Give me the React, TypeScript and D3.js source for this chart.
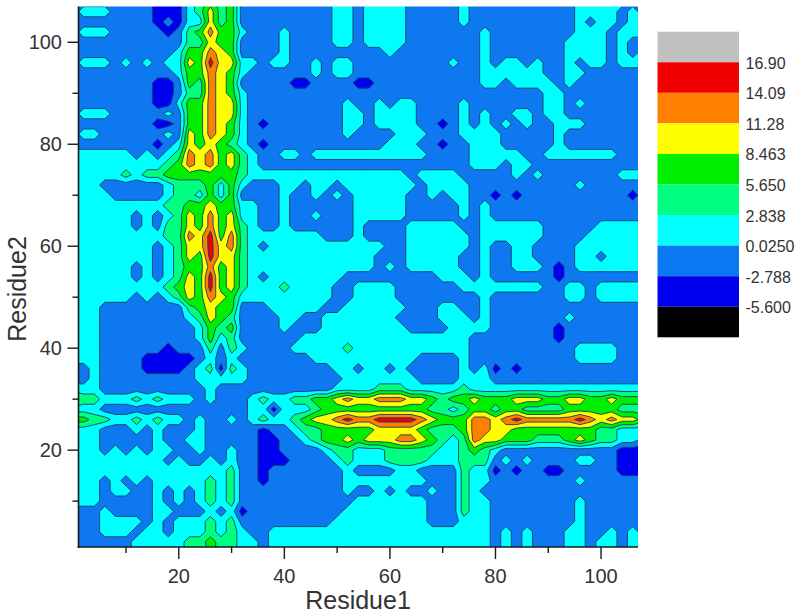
import React, { useMemo } from "react";
import * as d3 from "d3";

// Contour levels of the map, low to high
const levels = [-5.6, -2.788, 0.025, 2.838, 5.65, 8.463, 11.28, 14.09, 16.9];
const bandColors = ["#0000f0", "#0a78f0", "#00ffff", "#00ff80", "#00ee00", "#ffff00", "#ff8000", "#f00000"];
const legendColors = ["#c0c0c0", "#f00000", "#ff8000", "#ffff00", "#00ee00", "#00ff80", "#00ffff", "#0a78f0", "#0000f0", "#000000"];
const legendLabels = ["16.90", "14.09", "11.28", "8.463", "5.650", "2.838", "0.0250", "-2.788", "-5.600"];
const xMajor = [20, 40, 60, 80, 100];
const xMinor = [10, 30, 50, 70, 90];
const yMajor = [20, 40, 60, 80, 100];
const yMinor = [10, 30, 50, 70, 90];

// Band read at every second residue: Residue2 108 (top) to 0, Residue1 0 to 108
const bandRows = [
  "11111 11100 02343 41111 11111 22122 22111 11211 11111 11122 22211",
  "12221 11100 02353 41111 11111 22122 22111 11211 11111 11122 22121",
  "11111 11101 02253 41111 11111 22122 22111 11211 11111 11121 22122",
  "12221 11110 13464 42111 21111 22122 22111 11112 11111 11122 21222",
  "11111 11111 13354 41111 21111 22122 22111 11112 11111 11222 21211",
  "11111 11111 24465 41111 21111 11111 21111 11112 11111 11222 21212",
  "12221 21212 25475 52212 21121 22111 11111 12112 12212 11212 21222",
  "11111 11111 24465 42111 11121 22111 11111 11112 22222 11221 11111",
  "11111 11100 14365 41111 10011 11001 11111 11112 21222 21211 11111",
  "11111 11100 13365 42111 11111 11111 11111 11111 11111 22111 11111",
  "11111 11100 24465 52111 11111 12112 12211 11211 11111 22121 11111",
  "12221 11112 14465 52111 11111 12212 22211 11212 11221 22111 11111",
  "11111 11100 14465 42101 11111 12212 22211 01212 12121 12221 11111",
  "12211 11112 15465 42111 11111 12111 12221 11222 21111 12111 11111",
  "11111 11101 25454 32101 11111 11111 22211 01122 21111 12111 11111",
  "22222 21212 36564 53211 22122 22222 22221 11122 22211 22222 22111",
  "22222 22223 46564 53211 11111 11111 11111 11122 21221 11111 11111",
  "22222 32334 44444 43222 22222 22222 22122 22111 11212 11111 11222",
  "22211 11112 33342 42111 22122 12222 22212 22211 11111 11121 11111",
  "22221 11112 33242 41111 21121 21222 22112 12211 01011 11111 11101",
  "22222 22223 34454 42211 21111 11222 22111 11212 11111 11111 11111",
  "22222 21212 35464 52211 21121 11222 22111 11212 11111 11111 11111",
  "22222 21213 35464 53211 21111 11211 11222 22112 22222 11111 22222",
  "22222 22223 36574 63222 22221 11211 11222 22212 22222 11112 22222",
  "22222 22212 35575 63212 22222 22222 11222 22212 11221 11122 22222",
  "22222 22212 35475 53222 22222 22221 11222 22112 11221 11122 12222",
  "22222 21212 34464 53222 22222 22221 21222 22112 11222 10122 22222",
  "22222 21212 35474 53212 22222 21111 11111 22212 11111 10111 11111",
  "22222 22223 45474 53222 32222 11222 21111 11222 22222 11221 22222",
  "22222 21212 35465 42222 22222 11222 21111 11112 11111 11221 22222",
  "22211 11111 13454 41112 22221 12222 22111 22112 11111 11111 11111",
  "22211 11111 12354 31111 22112 22222 21111 22212 11111 11211 11111",
  "22211 11111 11243 41111 21112 22222 22111 12222 11111 10111 11111",
  "22211 11111 11242 31111 11222 22222 22222 22211 11111 10111 11111",
  "22211 11110 11131 32111 12222 23222 22222 22211 11111 11122 22111",
  "22211 11000 00121 21111 11122 22222 22211 11211 11111 11122 22111",
  "11211 11000 01230 32111 11111 22122 12111 11212 01011 11111 11111",
  "11211 11111 11222 22111 11111 12222 22211 11222 11111 11111 11111",
  "22211 11111 11121 11111 11111 22223 33222 22322 22222 22222 22222",
  "43322 23232 22121 11232 23344 56556 66554 34454 44555 44554 45444",
  "22211 11111 11111 11220 22234 44444 44443 32344 34433 33444 44333",
  "44332 23232 21211 21232 23455 67667 77765 44466 56766 66676 56554",
  "22211 12121 11211 11101 12334 44445 55543 33466 55444 44444 33222",
  "32211 11121 12211 11100 11234 45455 56654 32365 54443 33454 33221",
  "22212 12122 11211 21100 11112 33222 33333 22343 21111 11111 11000",
  "22222 22221 21121 21100 01111 23222 33332 22333 12121 11122 11000",
  "22222 22222 22222 31101 11111 12111 12211 11322 01011 00111 11000",
  "22212 12122 22232 31101 11111 12222 22221 11322 11111 11121 11111",
  "22212 21121 21232 31111 11111 12112 12112 11321 11111 11111 11111",
  "22211 11121 21232 31111 11111 11222 22221 11322 11111 11121 11111",
  "11121 11122 11121 20111 11111 12222 22221 11322 11111 11121 11111",
  "11122 22121 22232 31111 11111 22222 22221 11222 11111 11121 11111",
  "11122 21221 22232 32112 22222 22222 22222 22222 12121 11221 12121",
  "11111 12222 23343 32212 22222 22222 22222 22222 12121 11221 22122",
  "11111 12222 23243 32212 22222 22222 22222 22222 12121 11221 22122",
];

const W = 800;
const H = 616;
const textColor = "#333333";
const font = "Liberation Sans, Arial, sans-serif";

export default function App() {
  const x = d3.scaleLinear().domain([1, 107]).range([78.5, 638]);
  const y = d3.scaleLinear().domain([1, 107]).range([547, 6.6]);

  const paths = useMemo(() => {
    const digits = bandRows.map((r) => r.replace(/\s/g, "").split("").map(Number));
    const rows = digits.length;
    const cols = digits[0].length;
    const values = digits.flat().map((d) => (levels[d] + levels[d + 1]) / 2);
    const gen = d3.contours().size([cols, rows]).thresholds(levels.slice(0, 8));
    const project = d3.geoTransform({
      point(px: number, py: number) {
        (this as any).stream.point(x((px - 0.5) * 2), y(108 - (py - 0.5) * 2));
      },
    });
    const path = d3.geoPath(project);
    return gen(values).map((c, i) => ({ d: path(c as any) || "", color: bandColors[i] }));
  }, []);

  const legend = d3.scaleBand<string>().domain(legendColors).range([31.7, 337.3]);

  return (
    <svg width={W} height={H} viewBox={`0 0 ${W} ${H}`} style={{ position: "absolute", left: 0, top: 0, background: "#fff" }}>
      <defs>
        <clipPath id="plot">
          <rect x={x(1)} y={y(107)} width={x(107) - x(1)} height={y(1) - y(107)} />
        </clipPath>
        <filter id="soft" x="-2%" y="-2%" width="104%" height="104%">
          <feGaussianBlur stdDeviation="0.6" />
        </filter>
      </defs>
      <g clipPath="url(#plot)">
        <g filter="url(#soft)">
          {paths.map((p, i) => (
            <path key={i} d={p.d} fill={p.color} stroke="#10406a" strokeWidth={0.9} strokeLinejoin="round" />
          ))}
        </g>
      </g>

      <g stroke="#1a1a1a" fill="none">
        <line x1={x(1)} x2={x(1)} y1={y(107)} y2={y(1) + 1} strokeWidth={1.6} />
        <line x1={x(1) - 1} x2={x(107)} y1={y(1)} y2={y(1)} strokeWidth={1.6} />
        {xMajor.map((t) => <line key={t} x1={x(t)} x2={x(t)} y1={y(1)} y2={y(1) + 12} strokeWidth={1.4} />)}
        {xMinor.map((t) => <line key={t} x1={x(t)} x2={x(t)} y1={y(1)} y2={y(1) + 6} strokeWidth={1.4} />)}
        {yMajor.map((t) => <line key={t} x1={x(1)} x2={x(1) - 11} y1={y(t)} y2={y(t)} strokeWidth={1.4} />)}
        {yMinor.map((t) => <line key={t} x1={x(1)} x2={x(1) - 6} y1={y(t)} y2={y(t)} strokeWidth={1.4} />)}
      </g>

      <g fill={textColor} fontFamily={font} fontSize={20}>
        {xMajor.map((t) => <text key={t} x={x(t)} y={582.5} textAnchor="middle">{t}</text>)}
        {yMajor.map((t) => <text key={t} x={62} y={y(t) + 7} textAnchor="end">{t}</text>)}
      </g>
      <text x={358} y={609} textAnchor="middle" fontFamily={font} fontSize={25} fill={textColor}>Residue1</text>
      <text transform="translate(26,289) rotate(-90)" textAnchor="middle" fontFamily={font} fontSize={25} fill={textColor}>Residue2</text>

      {legendColors.map((c) => (
        <rect key={c} x={657.5} y={legend(c)} width={81.5} height={legend.bandwidth()} fill={c} />
      ))}
      <g fill={textColor} fontFamily={font} fontSize={16}>
        {legendLabels.map((l, i) => (
          <text key={l} x={745.5} y={legend(legendColors[i + 1])! + 6.5}>{l}</text>
        ))}
      </g>
    </svg>
  );
}
